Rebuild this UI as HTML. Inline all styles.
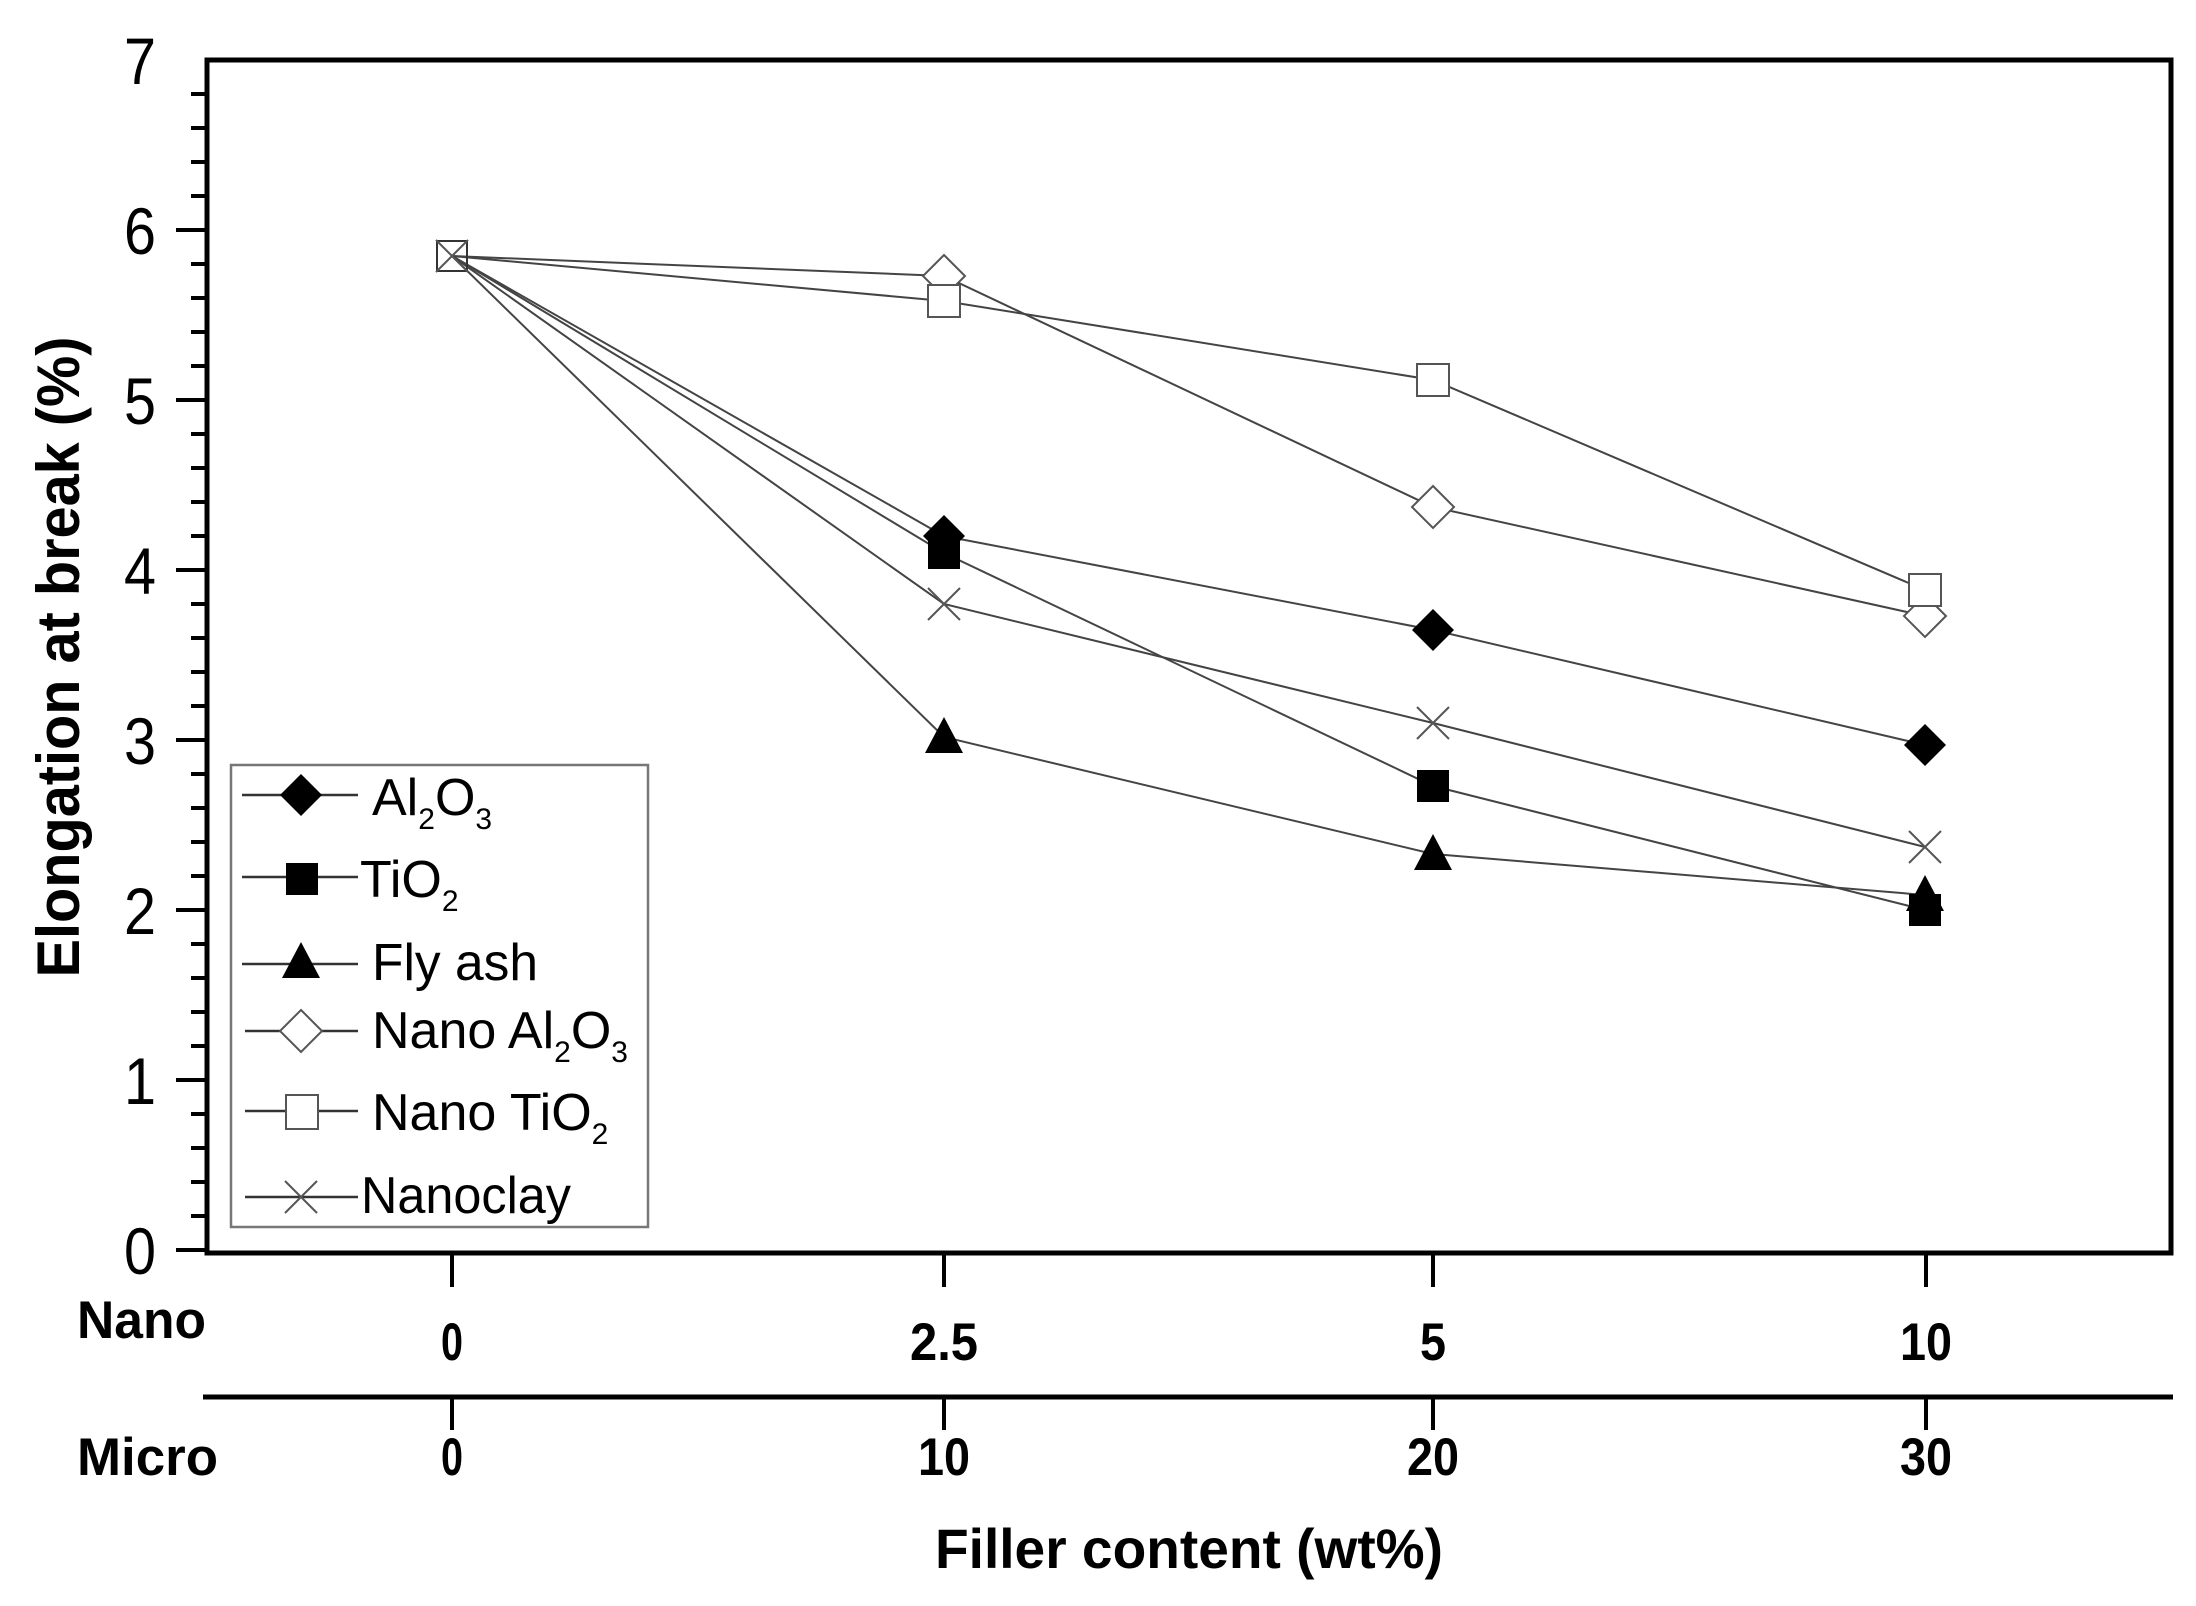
<!DOCTYPE html>
<html><head><meta charset="utf-8"><style>html,body{margin:0;padding:0;background:#fff}svg{display:block}</style></head>
<body>
<svg width="2196" height="1606" viewBox="0 0 2196 1606" xmlns="http://www.w3.org/2000/svg" font-family="Liberation Sans, Arial, sans-serif">
<rect width="2196" height="1606" fill="#fff"/>
<!-- plot frame -->
<rect x="207" y="60" width="1964" height="1193" fill="none" stroke="#000" stroke-width="5"/>
<!-- y ticks -->
<g stroke="#000" stroke-width="4">
<line x1="176" y1="1250" x2="207" y2="1250"/><line x1="176" y1="1080" x2="207" y2="1080"/><line x1="176" y1="910" x2="207" y2="910"/><line x1="176" y1="740" x2="207" y2="740"/><line x1="176" y1="570" x2="207" y2="570"/><line x1="176" y1="400" x2="207" y2="400"/><line x1="176" y1="230" x2="207" y2="230"/>
</g>
<g stroke="#000" stroke-width="4">
<line x1="191" y1="1216" x2="207" y2="1216"/><line x1="191" y1="1182" x2="207" y2="1182"/><line x1="191" y1="1148" x2="207" y2="1148"/><line x1="191" y1="1114" x2="207" y2="1114"/>
<line x1="191" y1="1046" x2="207" y2="1046"/><line x1="191" y1="1012" x2="207" y2="1012"/><line x1="191" y1="978" x2="207" y2="978"/><line x1="191" y1="944" x2="207" y2="944"/>
<line x1="191" y1="876" x2="207" y2="876"/><line x1="191" y1="842" x2="207" y2="842"/><line x1="191" y1="808" x2="207" y2="808"/><line x1="191" y1="774" x2="207" y2="774"/>
<line x1="191" y1="706" x2="207" y2="706"/><line x1="191" y1="672" x2="207" y2="672"/><line x1="191" y1="638" x2="207" y2="638"/><line x1="191" y1="604" x2="207" y2="604"/>
<line x1="191" y1="536" x2="207" y2="536"/><line x1="191" y1="502" x2="207" y2="502"/><line x1="191" y1="468" x2="207" y2="468"/><line x1="191" y1="434" x2="207" y2="434"/>
<line x1="191" y1="366" x2="207" y2="366"/><line x1="191" y1="332" x2="207" y2="332"/><line x1="191" y1="298" x2="207" y2="298"/><line x1="191" y1="264" x2="207" y2="264"/>
<line x1="191" y1="196" x2="207" y2="196"/><line x1="191" y1="162" x2="207" y2="162"/><line x1="191" y1="128" x2="207" y2="128"/><line x1="191" y1="94" x2="207" y2="94"/>
</g>
<g font-size="66" text-anchor="end">
<text x="156" y="1274" textLength="32" lengthAdjust="spacingAndGlyphs">0</text>
<text x="156" y="1104" textLength="32" lengthAdjust="spacingAndGlyphs">1</text>
<text x="156" y="934" textLength="32" lengthAdjust="spacingAndGlyphs">2</text>
<text x="156" y="764" textLength="32" lengthAdjust="spacingAndGlyphs">3</text>
<text x="156" y="594" textLength="32" lengthAdjust="spacingAndGlyphs">4</text>
<text x="156" y="424" textLength="32" lengthAdjust="spacingAndGlyphs">5</text>
<text x="156" y="254" textLength="32" lengthAdjust="spacingAndGlyphs">6</text>
<text x="156" y="84" textLength="32" lengthAdjust="spacingAndGlyphs">7</text>
</g>
<text transform="translate(79,657) rotate(-90)" font-size="60" font-weight="bold" text-anchor="middle" textLength="641" lengthAdjust="spacingAndGlyphs">Elongation at break (%)</text>
<!-- x axes ticks -->
<g stroke="#000" stroke-width="4">
<line x1="452" y1="1253" x2="452" y2="1287"/><line x1="944" y1="1253" x2="944" y2="1287"/><line x1="1433" y1="1253" x2="1433" y2="1287"/><line x1="1926" y1="1253" x2="1926" y2="1287"/>
<line x1="452" y1="1397" x2="452" y2="1430"/><line x1="944" y1="1397" x2="944" y2="1430"/><line x1="1433" y1="1397" x2="1433" y2="1430"/><line x1="1926" y1="1397" x2="1926" y2="1430"/>
</g>
<line x1="203" y1="1397" x2="2173" y2="1397" stroke="#000" stroke-width="5"/>
<g font-size="53" font-weight="bold">
<text x="77" y="1338" textLength="129" lengthAdjust="spacingAndGlyphs">Nano</text>
<text x="77" y="1475" textLength="141" lengthAdjust="spacingAndGlyphs">Micro</text>
</g>
<g font-size="53" font-weight="bold" text-anchor="middle">
<text x="452" y="1360" textLength="22" lengthAdjust="spacingAndGlyphs">0</text>
<text x="944" y="1360" textLength="68" lengthAdjust="spacingAndGlyphs">2.5</text>
<text x="1433" y="1360" textLength="26" lengthAdjust="spacingAndGlyphs">5</text>
<text x="1926" y="1360" textLength="52" lengthAdjust="spacingAndGlyphs">10</text>
<text x="452" y="1475" textLength="22" lengthAdjust="spacingAndGlyphs">0</text>
<text x="944" y="1475" textLength="52" lengthAdjust="spacingAndGlyphs">10</text>
<text x="1433" y="1475" textLength="52" lengthAdjust="spacingAndGlyphs">20</text>
<text x="1926" y="1475" textLength="52" lengthAdjust="spacingAndGlyphs">30</text>
</g>
<text x="1189" y="1568" font-size="56" font-weight="bold" text-anchor="middle" textLength="508" lengthAdjust="spacingAndGlyphs">Filler content (wt%)</text>
<!-- series lines -->
<g fill="none" stroke="#444" stroke-width="2">
<polyline points="452,256 944,536 1433,630 1925,745"/>
<polyline points="452,256 944,553 1433,786 1925,910"/>
<polyline points="452,256 944,737 1433,854 1925,895"/>
<polyline points="452,256 944,276 1433,507 1925,616"/>
<polyline points="452,256 944,301 1433,380 1925,590"/>
<polyline points="452,256 944,604 1433,723 1925,847"/>
</g>
<!-- markers -->
<defs>
<path id="fd" d="M0,-21 L21,0 L0,21 L-21,0 Z"/>
<path id="tr" d="M0,-20 L19,16 L-19,16 Z"/>
<path id="xx" d="M-16,-16 L16,16 M-16,16 L16,-16"/>
</defs>
<g fill="#000">
<use href="#fd" x="944" y="536"/><use href="#fd" x="1433" y="630"/><use href="#fd" x="1925" y="745"/>
<rect x="928" y="537" width="32" height="32"/><rect x="1417" y="770" width="32" height="32"/><rect x="1909" y="894" width="32" height="32"/>
<use href="#tr" x="944" y="737"/><use href="#tr" x="1433" y="854"/><use href="#tr" x="1925" y="895"/>
</g>
<g fill="#fff" stroke="#555" stroke-width="2">
<use href="#fd" x="944" y="276"/><use href="#fd" x="1433" y="507"/><use href="#fd" x="1925" y="616"/>
<rect x="928" y="285" width="32" height="32"/><rect x="1417" y="364" width="32" height="32"/><rect x="1909" y="574" width="32" height="32"/>
<rect x="437" y="241" width="30" height="30" fill="none" stroke="#333"/>
</g>
<g stroke="#555" stroke-width="2" fill="none">
<use href="#xx" x="452" y="256"/><use href="#xx" x="944" y="604"/><use href="#xx" x="1433" y="723"/><use href="#xx" x="1925" y="847"/>
</g>
<!-- legend -->
<rect x="231" y="765" width="417" height="462" fill="#fff" stroke="#777" stroke-width="2.5"/>
<g stroke="#333" stroke-width="2.5">
<line x1="242" y1="795" x2="358" y2="795"/><line x1="242" y1="877" x2="358" y2="877"/><line x1="242" y1="964" x2="358" y2="964"/>
<line x1="245" y1="1031" x2="358" y2="1031"/><line x1="245" y1="1111" x2="358" y2="1111"/><line x1="245" y1="1197" x2="358" y2="1197"/>
</g>
<g fill="#000">
<use href="#fd" x="301" y="795"/>
<rect x="286" y="863" width="32" height="32"/>
<use href="#tr" x="301" y="962"/>
</g>
<g fill="#fff" stroke="#555" stroke-width="2">
<use href="#fd" x="301" y="1031"/>
<rect x="286" y="1095" width="32" height="34"/>
</g>
<use href="#xx" x="301" y="1197" stroke="#555" stroke-width="2" fill="none"/>
<g font-size="52">
<text x="372" y="815">Al<tspan font-size="30" dy="14">2</tspan><tspan dy="-14">O</tspan><tspan font-size="30" dy="14">3</tspan></text>
<text x="360" y="897">TiO<tspan font-size="30" dy="14">2</tspan></text>
<text x="372" y="980" textLength="166" lengthAdjust="spacingAndGlyphs">Fly ash</text>
<text x="372" y="1048">Nano Al<tspan font-size="30" dy="14">2</tspan><tspan dy="-14">O</tspan><tspan font-size="30" dy="14">3</tspan></text>
<text x="372" y="1130">Nano TiO<tspan font-size="30" dy="14">2</tspan></text>
<text x="361" y="1213" textLength="210" lengthAdjust="spacingAndGlyphs">Nanoclay</text>
</g>
</svg>
</body></html>
